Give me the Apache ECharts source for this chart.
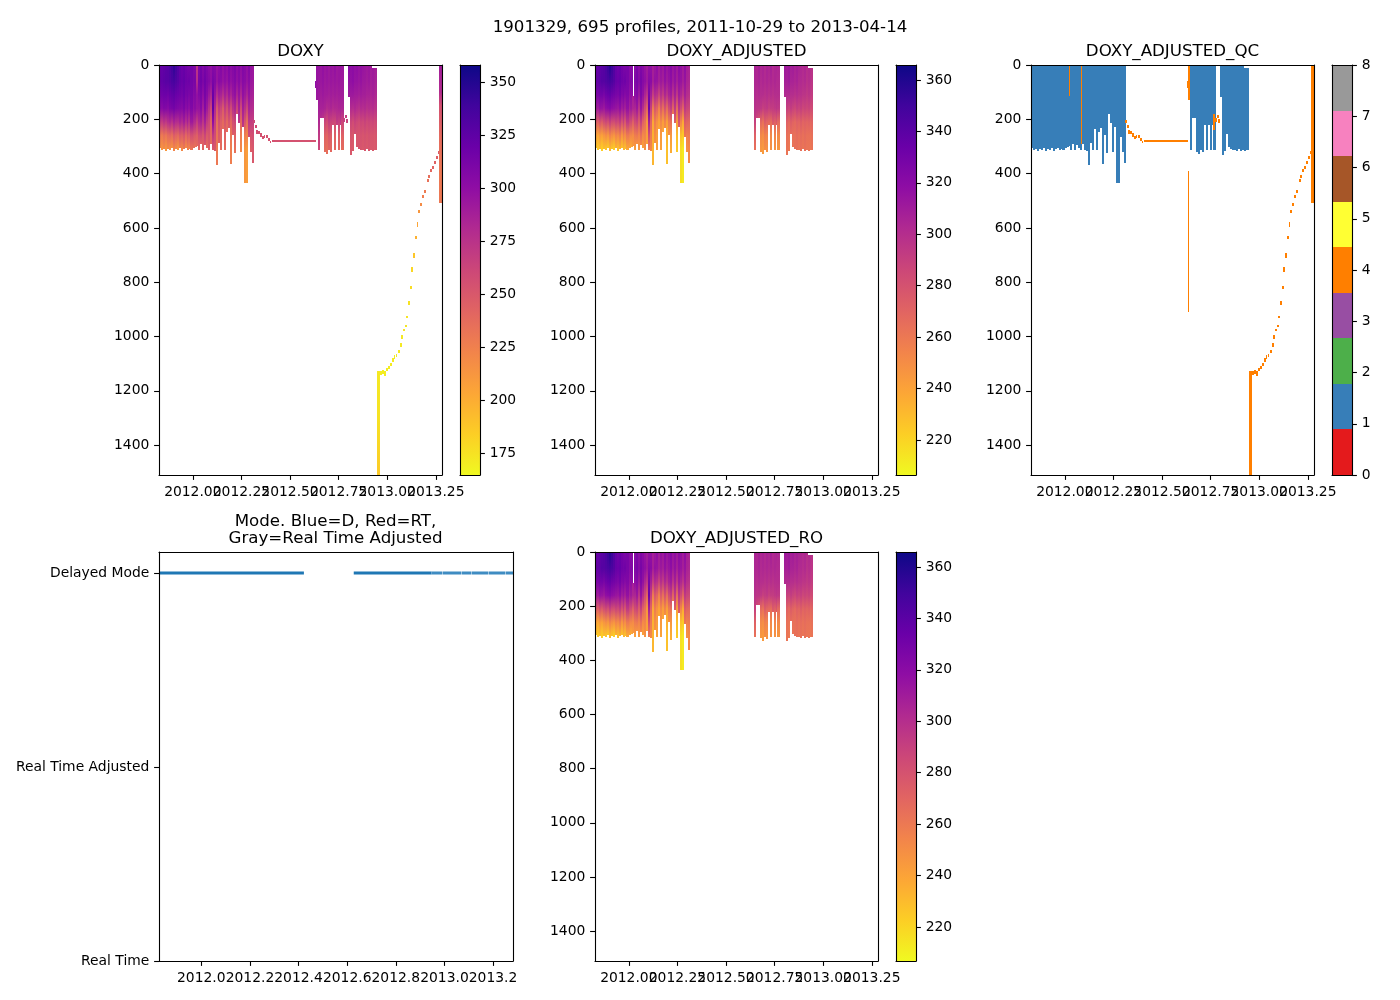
<!DOCTYPE html>
<html><head><meta charset="utf-8">
<style>html,body{margin:0;padding:0;background:#fff}#c{width:1400px;height:1000px}</style>
<script src="https://cdn.jsdelivr.net/npm/echarts@6/dist/echarts.min.js"></script>
</head><body><div id="c"></div>
<script>
// ---- data ----
const timeStart = 2011.826, timeEnd = 2013.282, depthMax = 1510;
const depthTicks = [0,200,400,600,800,1000,1200,1400];
const timeTicksA = [2012,2012.5,2013];
const timeTicksB = [2012.25,2012.75,2013.25];
const modeTimeTicks = [2012,2012.2,2012.4,2012.6,2012.8,2013,2013.2];
const doxyTicks = [175,200,225,250,275,300,325,350];
const adjTicks = [220,240,260,280,300,320,340,360];
const qcTicks = [0,1,2,3,4,5,6,7,8];
const qcColors = ['#e41a1c','#377eb8','#4daf4a','#984ea3','#ff7f00','#ffff33','#a65628','#f781bf','#999999'];
const plasma = ['#0d0887','#41049d','#6a00a8','#8f0da4','#b12a90','#cc4778','#e16462','#f2844b','#fca636','#fcce25','#f0f921'];
const levels = [0,60,110,160,210,260,310];

const timesWinter = [2011.831,2011.841,2011.851,2011.861,2011.871,2011.882,2011.892,2011.902,2011.912,2011.922,2011.932,2011.943,2011.953,2011.963,2011.973,2011.983,2011.993,2012.004,2012.014,2012.024,2012.034,2012.044,2012.054,2012.065,2012.075,2012.085,2012.095,2012.105,2012.115,2012.126,2012.136,2012.146,2012.156,2012.166,2012.176,2012.187,2012.197,2012.207,2012.217,2012.227,2012.237,2012.248,2012.258,2012.268,2012.278,2012.288,2012.298,2012.309];
const bottomWinter = [307,313,311,316,311,314,307,316,311,313,307,316,311,307,314,311,314,307,301,298,313,292,313,295,307,313,292,313,317,368,289,313,236,313,248,233,366,258,325,182,215,319,227,436,436,264,319,362];
const timesSummer = [2012.640,2012.650,2012.660,2012.670,2012.681,2012.691,2012.701,2012.711,2012.722,2012.732,2012.742,2012.752,2012.763,2012.770];
const bottomSummer = [130,313,194,194,319,329,313,322,222,313,222,313,222,313];
const timesAutumn = [2012.804,2012.814,2012.824,2012.834,2012.844,2012.855,2012.865,2012.875,2012.885,2012.895,2012.906,2012.916,2012.926,2012.936,2012.944];
const bottomAutumn = [117,330,316,255,301,310,313,313,316,311,316,313,318,313,313];

const doxyWinter = [
[320,322,314,305,272,232,216],[322,324,316,303,268,228,214],[324,326,318,308,275,235,218],[326,328,318,306,270,230,212],
[328,328,316,304,278,238,220],[332,330,320,310,282,240,216],[338,334,322,312,276,236,214],[346,336,324,314,285,246,222],
[338,332,320,310,280,242,218],[330,328,318,308,278,238,212],[322,322,316,306,286,248,224],[318,320,314,304,280,244,220],
[320,322,318,310,290,252,228],[316,318,312,302,278,240,218],[314,316,314,306,288,250,226],[312,318,310,300,276,246,222],
[314,314,312,308,292,256,232],[310,310,304,298,284,252,234],[308,312,306,302,280,248,230],[272,278,298,296,268,244,238],
[308,312,306,296,282,256,240],[314,316,310,304,286,258,236],[306,310,300,288,272,250,242],[312,316,312,306,288,262,244],
[308,310,304,292,270,248,238],[302,306,292,276,262,252,246],[298,300,284,262,244,240,236],[305,312,320,322,300,270,250],
[304,308,296,282,268,258,250],[296,296,278,250,236,232,230],[300,304,290,270,256,248,244],[306,302,286,262,246,240,238],
[298,296,276,248,238,236,236],[304,300,288,268,250,242,238],[300,296,280,256,240,236,235],[308,304,292,272,252,242,240],
[302,298,284,258,240,232,226],[306,302,294,276,256,246,244],[310,306,298,284,262,244,234],[302,298,284,262,246,240,238],
[306,304,296,286,272,256,240],[300,296,282,258,240,226,220],[308,304,298,288,276,262,250],[304,302,292,276,252,226,212],
[298,296,284,262,236,222,208],[306,302,296,286,272,258,248],[296,294,288,280,268,254,246],[294,292,286,278,266,256,250]];
const doxySummer = [
[296,296,294,290,290,290,290],[296,294,292,288,282,270,262],[294,294,290,286,276,262,256],[298,296,292,286,270,255,248],
[294,292,290,284,262,244,238],[296,294,290,280,258,242,236],[292,292,288,282,268,250,242],[296,294,290,284,264,246,240],
[294,292,288,280,262,248,244],[298,294,290,282,260,244,240],[292,292,288,282,270,256,250],[294,294,290,284,266,246,240],
[296,292,290,286,272,258,252],[294,292,290,284,262,244,238]];
const doxyAutumn = [
[304,298,292,292,292,292,292],[300,298,292,280,262,252,250],[302,300,292,278,258,250,248],[298,296,290,282,264,254,252],
[300,296,290,278,260,252,250],[296,294,288,276,258,252,252],[298,296,290,280,262,254,252],[296,292,288,278,260,252,250],
[294,292,288,280,264,254,252],[292,290,286,276,260,252,250],[294,292,286,278,262,254,252],[290,288,284,276,260,252,250],
[292,290,286,278,262,252,250],[290,288,284,274,258,250,248],[288,286,282,274,260,252,250]];

const adjWinter = [
[334,336,326,312,276,242,226],[336,338,328,310,272,238,224],[338,340,330,316,280,244,228],[340,342,330,314,274,240,222],
[342,342,328,312,282,246,228],[346,344,332,318,286,250,226],[352,346,334,320,282,246,224],[358,348,336,322,290,254,230],
[352,346,332,318,284,250,226],[344,342,330,316,282,246,222],[336,336,328,314,288,254,232],[332,334,326,312,284,250,228],
[334,336,330,318,292,258,234],[330,332,324,310,280,246,226],[328,330,326,314,290,256,232],[326,332,322,308,278,250,228],
[328,328,324,316,294,260,238],[322,322,316,306,286,256,238],[320,324,318,310,282,252,234],[296,300,308,304,272,250,242],
[320,324,318,304,284,258,242],[326,328,322,312,288,260,240],[318,322,312,296,274,254,244],[324,328,324,314,290,264,246],
[320,322,316,300,272,252,240],[314,318,304,284,264,254,248],[310,312,296,270,246,242,238],[316,322,328,332,308,282,258],
[316,320,308,290,270,260,252],[308,308,290,258,238,234,232],[312,316,302,278,258,250,246],[318,314,298,270,248,242,240],
[310,308,288,256,240,238,238],[316,312,300,276,252,244,240],[312,308,292,264,242,238,237],[320,316,304,280,254,244,242],
[314,310,296,266,242,234,228],[318,314,306,284,258,248,246],[322,318,310,292,264,246,236],[314,310,296,270,248,242,240],
[318,316,308,294,274,258,242],[312,308,294,266,242,228,224],[320,316,310,296,278,264,252],[316,314,304,284,254,228,216],
[310,308,296,270,238,224,212],[318,314,308,294,274,260,250],[308,306,300,288,270,256,248],[306,304,298,286,268,258,252]];
const adjSummer = [
[306,306,304,300,300,300,300],[306,304,302,298,290,272,264],[304,304,300,296,282,266,260],[308,306,302,296,276,260,256],
[304,302,300,294,268,252,246],[306,304,300,290,264,250,244],[302,302,298,292,274,256,250],[306,304,300,294,270,254,248],
[304,302,298,290,268,256,252],[308,304,300,292,266,252,248],[302,302,298,292,276,262,258],[304,304,300,294,272,254,248],
[306,302,300,296,278,264,260],[304,302,300,294,268,252,246]];
const adjAutumn = [
[312,308,302,302,302,302,302],[310,308,302,290,272,264,262],[312,310,302,288,268,262,260],[308,306,300,292,274,266,264],
[310,306,300,288,270,264,262],[306,304,298,286,268,264,264],[308,306,300,290,272,266,264],[306,302,298,288,270,264,262],
[304,302,298,290,274,266,264],[302,300,296,286,270,264,262],[304,302,296,288,272,266,264],[300,298,294,286,270,264,262],
[302,300,296,288,272,264,262],[300,298,294,284,268,262,260],[298,296,292,284,270,264,262]];

// deep drift after the last full profile
const driftTimes = [2012.966,2012.978,2012.990,2012.998,2013.008,2013.019,2013.029,2013.038,2013.048,2013.060,2013.070,2013.077,2013.086,2013.096,2013.103,2013.111,2013.122,2013.128,2013.139,2013.149,2013.156,2013.164,2013.173,2013.183,2013.194,2013.209,2013.216,2013.224,2013.235,2013.245,2013.255,2013.264];
const driftDepths = [1134,1130,1136,1121,1115,1103,1087,1075,1071,1055,1032,1001,976,961,927,876,819,753,701,636,587,539,513,484,467,425,411,388,378,360,341,322];
const driftSpans = [7,8,8,6,6,6,8,7,6,6,8,8,4,4,4,8,6,9,10,6,9,6,6,6,5,5,5,6,6,6,5,6];
const driftDoxy = [170,170,170,170,170,171,171,171,171,172,172,172,173,173,174,175,177,180,188,198,204,212,218,226,228,234,236,240,242,244,246,248];
// stretch between the winter block and the flat parking depth
const parkTimes = [2012.316,2012.323,2012.332,2012.342,2012.350,2012.359,2012.369,2012.380,2012.390,2012.400,2012.410];
const parkDepths = [209,227,246,248,258,268,264,262,275,283,280];
const parkSpans = [5,5,8,6,6,5,6,6,5,4,4];
const parkDoxy = [262,258,256,256,254,254,254,254,254,254,254];
const flatStretch = [2012.413,2012.633,280,3.5,254];
const gapTimes = [2012.777,2012.786,2012.794];
const gapDepths = [203,190,206];
const gapDoxy = [266,268,264];
// single odd profiles: [time, width, depth levels, doxy values]
const deepProfile = [2012.957,0.0155,[1128,1300,1510],[172,175,186]];
const lastProfile = [2013.2735,0.0165,[0,100,150,270,400,510],[290,280,255,238,230,230]];
const stubProfile = [2012.631,0.005,[60,85],[300,300]];
// QC=4 thin profiles: [time, width, top, bottom]
const qcBadThin = [[2012.025,0.0075,0,115],[2012.0865,0.0075,0,290],[2012.640,0.0075,0,130],[2012.631,0.0075,60,85],[2012.636,0.005,390,910],[2012.767,0.012,182,238]];
const adjGapColumn = [19,115];
// Mode track
const modeTicks = [0,0.5,1], modeNames = ['Real Time','Real Time Adjusted','Delayed Mode'];
const modeSolid = [[2011.826,1],[2012.422,1],null,[2012.627,1],[2012.947,1]];
const modeSparse = [[2012.947,1],[2012.99,1],null,[2012.992,1],[2013.07,1],null,[2013.072,1],[2013.11,1],null,[2013.112,1],[2013.18,1],null,[2013.182,1],[2013.25,1],null,[2013.252,1],[2013.282,1]];

// ---- helpers ----
const FONT = '"DejaVu Sans"';
function hexRgb(h){return [1,3,5].map(i=>parseInt(h.substr(i,2),16));}
function cmap(v,min,max){
  let f=1-(v-min)/(max-min); f=Math.max(0,Math.min(1,f))*(plasma.length-1);
  const i=Math.min(Math.floor(f),plasma.length-2), a=hexRgb(plasma[i]), b=hexRgb(plasma[i+1]), u=f-i;
  return 'rgb('+a.map((c,j)=>Math.round(c+(b[j]-c)*u)).join(',')+')';
}
function valueAt(d,ls,vs){
  if(d<=ls[0])return vs[0];
  for(let i=1;i<ls.length;i++) if(d<=ls[i]) return vs[i-1]+(vs[i]-vs[i-1])*(d-ls[i-1])/(ls[i]-ls[i-1]);
  return vs[vs.length-1];
}
function gradientFor(top,bot,ls,vs,min,max){
  const pts=[top].concat(ls.filter(l=>l>top&&l<bot),[bot]);
  return new echarts.graphic.LinearGradient(0,0,0,1,pts.map(d=>({offset:(d-top)/(bot-top),color:cmap(valueAt(d,ls,vs),min,max)})));
}
function blockRows(ts,bs,vals,dt){
  return ts.map((t,i)=>({t,w:dt,top:0,bot:bs[i],ls:levels,vs:vals[i]}));
}
function renderRows(rows,min,max){
  return function(params,api){
    const r=rows[api.value(3)];
    const a=api.coord([r.t-r.w/2,r.top]), b=api.coord([r.t+r.w/2,r.bot]);
    const fill = r.color || gradientFor(r.top,r.bot,r.ls,r.vs,min,max);
    const x0=Math.round(a[0]), x1=Math.round(b[0]);
    const y0=Math.round(Math.min(a[1],b[1])), y1=Math.round(Math.max(a[1],b[1]));
    return {type:'rect',shape:{x:x0,y:y0,width:Math.max(1,x1-x0),height:Math.max(1,y1-y0)},style:{fill},silent:true};
  };
}
function seriesFor(rows,xi,min,max){
  return {type:'custom',xAxisIndex:xi,yAxisIndex:xi,clip:true,z:2,silent:true,animation:false,
    renderItem:renderRows(rows,min,max),encode:{x:0,y:1},
    data:rows.map((r,i)=>[r.t,r.top,r.bot,i])};
}

const dt=0.0108;
const winter=blockRows(timesWinter,bottomWinter,doxyWinter,dt), summer=blockRows(timesSummer,bottomSummer,doxySummer,dt), autumn=blockRows(timesAutumn,bottomAutumn,doxyAutumn,dt);
winter[2].top=4; winter[33].top=4; winter[34].top=4;
autumn.slice(12).forEach(r=>r.top=10);
const doxyExtras=[];
function point(t,d,s,v){return {t,w:0.0095,top:d-s,bot:d+s,ls:[d-s,d+s],vs:[v,v]};}
driftTimes.forEach((t,i)=>doxyExtras.push(point(t,driftDepths[i],driftSpans[i],driftDoxy[i])));
parkTimes.forEach((t,i)=>doxyExtras.push(point(t,parkDepths[i],parkSpans[i],parkDoxy[i])));
gapTimes.forEach((t,i)=>doxyExtras.push(point(t,gapDepths[i],6,gapDoxy[i])));
doxyExtras.push({t:(flatStretch[0]+flatStretch[1])/2,w:flatStretch[1]-flatStretch[0],top:flatStretch[2]-flatStretch[3],bot:flatStretch[2]+flatStretch[3],ls:[0,2000],vs:[flatStretch[4],flatStretch[4]]});
[deepProfile,lastProfile,stubProfile].forEach(p=>doxyExtras.push({t:p[0],w:p[1],top:p[2][0],bot:p[2][p[2].length-1],ls:p[2],vs:p[3]}));
const doxyRows=[...winter,...summer,...autumn,...doxyExtras];

const adjW=blockRows(timesWinter,bottomWinter,adjWinter,dt), adjS=blockRows(timesSummer,bottomSummer,adjSummer,dt).slice(1), adjA=blockRows(timesAutumn,bottomAutumn,adjAutumn,dt);
adjW[adjGapColumn[0]].top=adjGapColumn[1];
adjW[2].top=4; adjW[33].top=4; adjW[34].top=4; adjA.slice(12).forEach(r=>r.top=10);
const adjRows=[...adjW,...adjS,...adjA];

const qcGood=[...winter,...summer.slice(1),...autumn].map(r=>({t:r.t,w:r.w,top:r.top,bot:r.bot,color:qcColors[1]}));
const qcBad=[...doxyExtras.map(r=>({t:r.t,w:r.w,top:r.top,bot:r.bot,color:qcColors[4]})),
  ...qcBadThin.map(q=>({t:q[0],w:q[1],top:q[2],bot:q[3],color:qcColors[4]}))];
const qcRows=[...qcGood,...qcBad];

// ---- layout ----
const T=65,H=410,T2=552,H2=409;
const panels=[
 {x:159,y:T,w:283,h:H,title:'DOXY',rows:doxyRows,min:164.6,max:358,cb:460,ticks:doxyTicks,cbKind:'plasma'},
 {x:595,y:T,w:283,h:H,title:'DOXY_ADJUSTED',rows:adjRows,min:206.4,max:365.8,cb:896,ticks:adjTicks,cbKind:'plasma'},
 {x:1031,y:T,w:283,h:H,title:'DOXY_ADJUSTED_QC',rows:qcRows,min:0,max:8,cb:1332,ticks:qcTicks,cbKind:'qc'},
 {x:595,y:T2,w:283,h:H2,title:'DOXY_ADJUSTED_RO',rows:adjRows,min:206.8,max:365.8,cb:896,ticks:adjTicks,cbKind:'plasma'}
];
const line={show:true,onZero:false,lineStyle:{color:'#000',width:1.1}};
const noLine={show:false,onZero:false};
const tick={show:true,length:4.9,lineStyle:{color:'#000',width:1.1}};
const label={color:'#000',fontFamily:FONT,fontSize:13.89,margin:10.5,hideOverlap:false};
const yLabel=Object.assign({},label,{margin:9.7,padding:[6,0,0,0]});
const grids=[],xAxes=[],yAxes=[],series=[];
function addGrid(g,xo,yo){
  const i=grids.length;
  grids.push({left:g.x,top:g.y,width:g.w,height:g.h,containLabel:false,show:false});
  xAxes.push(Object.assign({gridIndex:i,type:'value',position:'bottom',splitLine:{show:false},axisLine:line,z:5},xo));
  yAxes.push(Object.assign({gridIndex:i,type:'value',position:'left',splitLine:{show:false},axisLine:line,z:5},yo));
  return i;
}
function addFrame(i,xo,yo){
  // top and right spines share the scale of the main axes
  xAxes.push({gridIndex:i,type:'value',position:'top',min:xo.min,max:xo.max,axisLine:line,axisTick:{show:false},axisLabel:{show:false},splitLine:{show:false},z:5});
  yAxes.push({gridIndex:i,type:'value',position:'right',min:yo.min,max:yo.max,inverse:!!yo.inverse,axisLine:line,axisTick:{show:false},axisLabel:{show:false},splitLine:{show:false},z:5});
}
panels.forEach(p=>{
  const xo={min:timeStart,max:timeEnd,axisTick:Object.assign({},tick,{customValues:timeTicksA}),
    axisLabel:Object.assign({},label,{customValues:timeTicksA,formatter:v=>v.toFixed(2)})};
  const yo={min:0,max:depthMax,inverse:true,axisTick:Object.assign({},tick,{customValues:depthTicks}),
    axisLabel:Object.assign({},yLabel,{customValues:depthTicks,formatter:v=>String(v)})};
  let i=addGrid(p,xo,yo), xi=xAxes.length-1;
  series.push(seriesFor(p.rows,xi,p.min,p.max));
  addFrame(i,xo,yo);
  // the reference's labels overlap; the second half of them lives on an overlaid axis of the same scale
  addGrid(p,{min:timeStart,max:timeEnd,axisLine:noLine,axisTick:Object.assign({},tick,{customValues:timeTicksB}),
    axisLabel:Object.assign({},label,{customValues:timeTicksB,formatter:v=>v.toFixed(2)})},
    {min:0,max:depthMax,axisLine:noLine,axisTick:{show:false},axisLabel:{show:false}});
  // colour bar
  const cx={min:0,max:1,axisTick:{show:false},axisLabel:{show:false}};
  const cy={position:'right',min:p.min,max:p.max,axisTick:Object.assign({},tick,{customValues:p.ticks}),
    axisLabel:Object.assign({},yLabel,{customValues:p.ticks,formatter:v=>String(v)})};
  i=addGrid({x:p.cb,y:p.y,w:20,h:p.h},cx,cy); xi=xAxes.length-1;
  if(p.cbKind==='qc'){
    const rows=qcColors.map((c,k)=>({t:0.5,w:1,top:k*8/9,bot:(k+1)*8/9,color:c}));
    series.push(seriesFor(rows,xi,0,8));
  }else{
    const fill=new echarts.graphic.LinearGradient(0,0,0,1,plasma.map((c,k)=>({offset:k/(plasma.length-1),color:c})));
    series.push(seriesFor([{t:0.5,w:1,top:p.max,bot:p.min,color:fill}],xi,p.min,p.max));
  }
  xAxes.push({gridIndex:i,type:'value',position:'top',min:0,max:1,axisLine:line,axisTick:{show:false},axisLabel:{show:false},splitLine:{show:false},z:5});
  yAxes.push({gridIndex:i,type:'value',position:'left',min:p.min,max:p.max,axisLine:line,axisTick:{show:false},axisLabel:{show:false},splitLine:{show:false},z:5});
});
// Mode panel
{
  const xo={min:timeStart,max:timeEnd,axisTick:Object.assign({},tick,{customValues:modeTimeTicks}),
    axisLabel:Object.assign({},label,{customValues:modeTimeTicks,formatter:v=>v.toFixed(1)})};
  const yo={min:0,max:1.054,axisTick:Object.assign({},tick,{customValues:modeTicks}),
    axisLabel:Object.assign({},yLabel,{customValues:modeTicks,formatter:v=>modeNames[modeTicks.indexOf(v)]})};
  const i=addGrid({x:159,y:T2,w:354,h:H2},xo,yo);
  const xi=xAxes.length-1;
  series.push({type:'line',xAxisIndex:xi,yAxisIndex:xi,data:modeSolid,showSymbol:false,connectNulls:false,z:2,clip:true,
    lineStyle:{color:'#1f77b4',width:3,cap:'butt'},animation:false,silent:true});
  series.push({type:'line',xAxisIndex:xi,yAxisIndex:xi,data:modeSparse,showSymbol:false,connectNulls:false,z:2,clip:true,
    lineStyle:{color:'#3f8cc2',width:3,cap:'butt'},animation:false,silent:true});
  addFrame(i,xo,yo);
}
const titleStyle={color:'#000',fontFamily:FONT,fontSize:16.67,fontWeight:'normal',lineHeight:17};
function titleAt(text,x,y){return {text,left:x,top:y,textAlign:'center',textVerticalAlign:'top',textStyle:titleStyle,padding:0};}
const titles=[
 titleAt('1901329, 695 profiles, 2011-10-29 to 2013-04-14',700,19),
 titleAt('DOXY',300.5,43),titleAt('DOXY_ADJUSTED',736.5,43),titleAt('DOXY_ADJUSTED_QC',1172.5,43),
 titleAt('Mode. Blue=D, Red=RT,\nGray=Real Time Adjusted',335.5,513),titleAt('DOXY_ADJUSTED_RO',736.5,530)
];
const chart=echarts.init(document.getElementById('c'),null,{renderer:'canvas',width:1400,height:1000});
chart.setOption({backgroundColor:'#fff',animation:false,title:titles,grid:grids,xAxis:xAxes,yAxis:yAxes,series});
</script></body></html>
